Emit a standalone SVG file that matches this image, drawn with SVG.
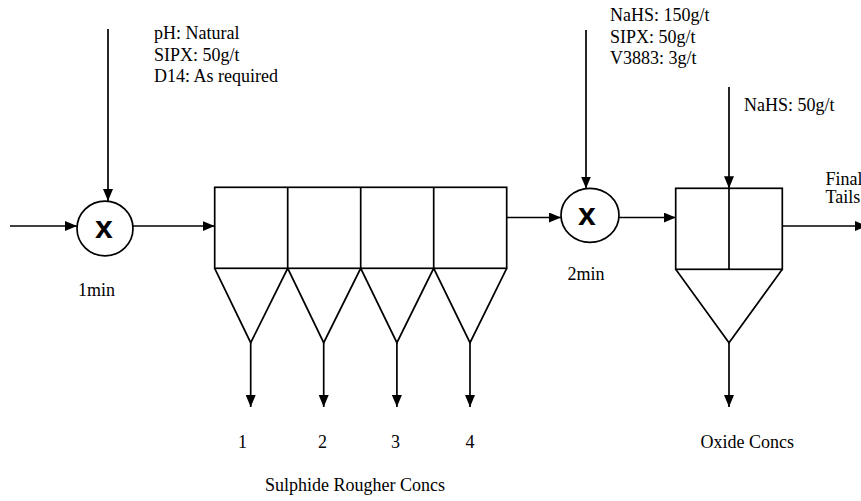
<svg xmlns="http://www.w3.org/2000/svg" width="861" height="501" viewBox="0 0 861 501">
<defs>
<marker id="ah" viewBox="0 0 12 10" refX="12" refY="5" markerWidth="12" markerHeight="10" markerUnits="userSpaceOnUse" orient="auto">
<path d="M0,0 L12,5 L0,10 Z" fill="#000"/>
</marker>
</defs>
<style>
.ln{stroke:#000;stroke-width:1.7;fill:none}
.sh{stroke:#000;stroke-width:1.7;fill:#fff}
.ar{stroke:#000;stroke-width:1.7;fill:none;marker-end:url(#ah)}
.t{font-family:'Liberation Serif','Times New Roman','DejaVu Serif',serif;font-size:18px;fill:#000}
.x{font-family:'Liberation Sans',Arial,sans-serif;font-size:32px;font-weight:bold;fill:#000;text-anchor:middle}
</style>
<rect width="861" height="501" fill="#fff"/>
<g id="connectors">
<line class="ar" x1="10" y1="226" x2="77" y2="226"/>
<line class="ar" x1="108" y1="29" x2="108" y2="201"/>
<line class="ar" x1="133" y1="226" x2="214.7" y2="226"/>
<line class="ar" x1="506.7" y1="217.5" x2="561" y2="217.5"/>
<line class="ar" x1="586" y1="30" x2="586" y2="188.5"/>
<line class="ar" x1="619" y1="217.5" x2="675.7" y2="217.5"/>
<line class="ar" x1="729" y1="87" x2="729" y2="188.3"/>
<line class="ar" x1="782.3" y1="226" x2="867" y2="226"/>
<line class="ar" x1="250.7" y1="342.7" x2="250.7" y2="407"/>
<line class="ar" x1="323.7" y1="342.7" x2="323.7" y2="407"/>
<line class="ar" x1="396.9" y1="342.7" x2="396.9" y2="407"/>
<line class="ar" x1="470" y1="342.7" x2="470" y2="407"/>
<line class="ar" x1="729" y1="342.7" x2="729" y2="407"/>
</g>
<g id="mixer1">
<ellipse class="sh" cx="105" cy="228.5" rx="28" ry="27.3"/>
<text class="x" x="104" y="238">x</text>
<text class="t" x="78" y="296" font-family="Liberation Serif, serif">1min</text>
</g>
<g id="reagents1">
<text class="t" x="154" y="39">pH: Natural</text>
<text class="t" x="154" y="61">SIPX: 50g/t</text>
<text class="t" x="154" y="82">D14: As required</text>
</g>
<g id="sulphide-bank">
<rect class="sh" x="214.7" y="187.3" width="292" height="81"/>
<line class="ln" x1="287.7" y1="187.3" x2="287.7" y2="268.3"/>
<line class="ln" x1="360.7" y1="187.3" x2="360.7" y2="268.3"/>
<line class="ln" x1="433.7" y1="187.3" x2="433.7" y2="268.3"/>
<path class="ln" d="M214.7,268.3 L250.7,342.7 L287.7,268.3 L323.7,342.7 L360.7,268.3 L396.9,342.7 L433.7,268.3 L470,342.7 L506.7,268.3"/>
</g>
<g id="sulphide-labels">
<text class="t" x="242.5" y="448" text-anchor="middle">1</text>
<text class="t" x="322.5" y="448" text-anchor="middle">2</text>
<text class="t" x="395.5" y="448" text-anchor="middle">3</text>
<text class="t" x="470" y="448" text-anchor="middle">4</text>
<text class="t" x="265" y="491">Sulphide Rougher Concs</text>
</g>
<g id="mixer2">
<ellipse class="sh" cx="590" cy="215.3" rx="29" ry="27"/>
<text class="x" x="587" y="225">x</text>
<text class="t" x="567.5" y="280">2min</text>
</g>
<g id="reagents2">
<text class="t" x="610" y="21">NaHS: 150g/t</text>
<text class="t" x="610" y="42.5">SIPX: 50g/t</text>
<text class="t" x="610" y="63.5">V3883: 3g/t</text>
</g>
<g id="reagents3">
<text class="t" x="744" y="111">NaHS: 50g/t</text>
</g>
<g id="oxide-cell">
<rect class="sh" x="675.7" y="188.3" width="106.6" height="81"/>
<line class="ln" x1="729" y1="188.3" x2="729" y2="269.3"/>
<path class="ln" d="M675.7,269.3 L729,342.7 L782.3,269.3"/>
<text class="t" x="700.5" y="448">Oxide Concs</text>
</g>
<g id="final-tails">
<text class="t" x="825.5" y="184.5">Final</text>
<text class="t" x="825.5" y="203">Tails</text>
</g>
</svg>
